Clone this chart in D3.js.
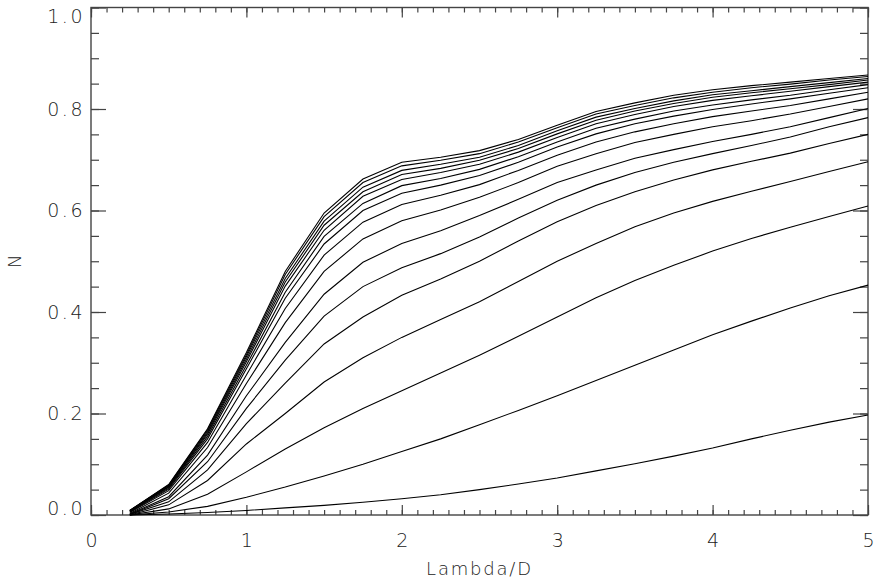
<!DOCTYPE html>
<html>
<head>
<meta charset="utf-8">
<script src="https://cdn.jsdelivr.net/npm/d3@7"></script>
<style>
  html, body { margin: 0; padding: 0; background: #fff; }
  svg text { font-family: "DejaVu Sans", sans-serif; font-weight: 300; fill: #222; }
</style>
</head>
<body>
<svg id="chart" width="876" height="582"></svg>
<script>
/* global d3 */

// Family of N vs Lambda/D curves, IDL-style boxed plot.

const lambdaD = [0.25, 0.5, 0.75, 1.0, 1.25, 1.5, 1.75, 2.0, 2.25, 2.5,
  2.75, 3.0, 3.25, 3.5, 3.75, 4.0, 4.25, 4.5, 4.75, 5.0];

// curves from top to bottom
const n01 = [0.009, 0.060, 0.170, 0.320, 0.480, 0.595, 0.662, 0.695, 0.705, 0.718, 0.740, 0.768, 0.795, 0.812, 0.827, 0.838, 0.846, 0.853, 0.860, 0.867];
const n02 = [0.009, 0.059, 0.168, 0.316, 0.474, 0.588, 0.655, 0.688, 0.699, 0.712, 0.735, 0.763, 0.790, 0.807, 0.822, 0.833, 0.842, 0.849, 0.857, 0.864];
const n03 = [0.009, 0.058, 0.165, 0.312, 0.466, 0.579, 0.646, 0.679, 0.691, 0.705, 0.728, 0.757, 0.784, 0.801, 0.816, 0.828, 0.836, 0.844, 0.852, 0.860];
const n04 = [0.008, 0.056, 0.162, 0.307, 0.459, 0.571, 0.637, 0.671, 0.683, 0.699, 0.722, 0.751, 0.778, 0.796, 0.811, 0.823, 0.832, 0.840, 0.848, 0.857];
const n05 = [0.008, 0.055, 0.159, 0.302, 0.451, 0.561, 0.628, 0.661, 0.675, 0.691, 0.715, 0.744, 0.771, 0.789, 0.805, 0.817, 0.826, 0.835, 0.844, 0.853];
const n06 = [0.007, 0.053, 0.155, 0.295, 0.439, 0.549, 0.614, 0.649, 0.663, 0.681, 0.706, 0.735, 0.762, 0.780, 0.796, 0.808, 0.818, 0.827, 0.838, 0.848];
const n07 = [0.006, 0.051, 0.150, 0.288, 0.427, 0.534, 0.600, 0.634, 0.650, 0.669, 0.695, 0.725, 0.751, 0.771, 0.786, 0.799, 0.810, 0.820, 0.831, 0.842];
const n08 = [0.005, 0.048, 0.143, 0.276, 0.407, 0.512, 0.577, 0.612, 0.630, 0.651, 0.679, 0.709, 0.735, 0.755, 0.771, 0.785, 0.796, 0.807, 0.820, 0.833];
const n09 = [0.003, 0.043, 0.133, 0.259, 0.379, 0.480, 0.544, 0.580, 0.601, 0.626, 0.655, 0.687, 0.712, 0.734, 0.750, 0.765, 0.777, 0.790, 0.805, 0.820];
const n10 = [0.002, 0.036, 0.118, 0.235, 0.340, 0.435, 0.498, 0.535, 0.560, 0.590, 0.622, 0.655, 0.680, 0.703, 0.720, 0.736, 0.750, 0.765, 0.783, 0.801];
const n11 = [0.001, 0.032, 0.105, 0.210, 0.305, 0.392, 0.450, 0.487, 0.515, 0.548, 0.585, 0.620, 0.650, 0.675, 0.695, 0.712, 0.728, 0.745, 0.765, 0.783];
const n12 = [0.001, 0.026, 0.089, 0.180, 0.260, 0.337, 0.390, 0.433, 0.465, 0.500, 0.540, 0.578, 0.610, 0.637, 0.660, 0.680, 0.697, 0.713, 0.732, 0.750];
const n13 = [0.000, 0.020, 0.068, 0.140, 0.200, 0.262, 0.310, 0.350, 0.385, 0.420, 0.460, 0.500, 0.535, 0.568, 0.595, 0.618, 0.638, 0.657, 0.677, 0.696];
const n14 = [0.000, 0.012, 0.041, 0.085, 0.130, 0.172, 0.210, 0.245, 0.280, 0.315, 0.352, 0.390, 0.428, 0.462, 0.492, 0.520, 0.545, 0.567, 0.588, 0.609];
const n15 = [0.000, 0.006, 0.017, 0.035, 0.055, 0.077, 0.100, 0.125, 0.150, 0.178, 0.206, 0.235, 0.265, 0.295, 0.325, 0.355, 0.382, 0.408, 0.432, 0.453];
const n16 = [0.000, 0.002, 0.005, 0.009, 0.014, 0.019, 0.025, 0.032, 0.040, 0.050, 0.061, 0.073, 0.087, 0.101, 0.116, 0.132, 0.150, 0.167, 0.183, 0.197];

const curves = [n01, n02, n03, n04, n05, n06, n07, n08, n09, n10, n11, n12, n13, n14, n15, n16];

const xMajor = [0, 1, 2, 3, 4, 5];
const yMajor = [0, 0.2, 0.4, 0.6, 0.8, 1.0];

const box = { left: 91, right: 868, top: 7.5, bottom: 515 };

const svg = d3.select("#chart");

const x = d3.scaleLinear().domain([0, 5]).range([box.left, box.right]);
const y = d3.scaleLinear().domain([0, 1]).range([box.bottom, box.top]);

const xMinor = d3.range(0, 51).map((i) => i / 10);
const yMinor = d3.range(0, 21).map((i) => i / 20);

function styleAxis(g) {
  g.select(".domain").remove();
  g.selectAll("line").attr("stroke", "#444").attr("stroke-width", 1.2);
}

// bottom
svg.append("g")
  .attr("transform", `translate(0,${box.bottom})`)
  .call(d3.axisBottom(x).tickValues(xMinor).tickSize(-5).tickFormat(""))
  .call(styleAxis);
svg.append("g")
  .attr("transform", `translate(0,${box.bottom})`)
  .call(d3.axisBottom(x).tickValues(xMajor).tickSize(-10).tickPadding(19).tickFormat(d3.format("d")))
  .call(styleAxis)
  .call((g) => g.selectAll("text").attr("font-size", 19).style("letter-spacing", "2px").attr("dx", "1px"));

// top
svg.append("g")
  .attr("transform", `translate(0,${box.top})`)
  .call(d3.axisTop(x).tickValues(xMinor).tickSize(-5).tickFormat(""))
  .call(styleAxis);
svg.append("g")
  .attr("transform", `translate(0,${box.top})`)
  .call(d3.axisTop(x).tickValues(xMajor).tickSize(-10).tickFormat(""))
  .call(styleAxis);

// left
svg.append("g")
  .attr("transform", `translate(${box.left},0)`)
  .call(d3.axisLeft(y).tickValues(yMinor).tickSize(-8).tickFormat(""))
  .call(styleAxis);
svg.append("g")
  .attr("transform", `translate(${box.left},0)`)
  .call(d3.axisLeft(y).tickValues(yMajor).tickSize(-15).tickPadding(6).tickFormat(d3.format(".1f")))
  .call(styleAxis)
  .call((g) => {
    g.selectAll("text").attr("font-size", 19).style("letter-spacing", "2.5px");
    // IDL pulls the end labels inside the box
    g.selectAll("text").filter((d) => d === 0).attr("y", -7);
    g.selectAll("text").filter((d) => d === 1).attr("y", 8.5);
  });

// right
svg.append("g")
  .attr("transform", `translate(${box.right},0)`)
  .call(d3.axisRight(y).tickValues(yMinor).tickSize(-8).tickFormat(""))
  .call(styleAxis);
svg.append("g")
  .attr("transform", `translate(${box.right},0)`)
  .call(d3.axisRight(y).tickValues(yMajor).tickSize(-15).tickFormat(""))
  .call(styleAxis);

// frame
svg.append("rect")
  .attr("x", box.left)
  .attr("y", box.top)
  .attr("width", box.right - box.left)
  .attr("height", box.bottom - box.top)
  .attr("fill", "none")
  .attr("stroke", "#444")
  .attr("stroke-width", 1.4);

// curves
const line = d3.line()
  .x((d, i) => x(lambdaD[i]))
  .y((d) => y(d));

svg.append("g")
  .selectAll("path")
  .data(curves)
  .join("path")
  .attr("d", line)
  .attr("fill", "none")
  .attr("stroke", "#000")
  .attr("stroke-width", 1.1);

// axis titles
svg.append("text")
  .attr("x", (box.left + box.right) / 2)
  .attr("y", 575)
  .attr("text-anchor", "middle")
  .attr("font-size", 18)
  .style("letter-spacing", "1.8px")
  .text("Lambda/D");

svg.append("text")
  .attr("transform", `translate(21,${(box.top + box.bottom) / 2}) rotate(-90)`)
  .attr("text-anchor", "middle")
  .attr("font-size", 18)
  .text("N");
</script>
</body>
</html>
